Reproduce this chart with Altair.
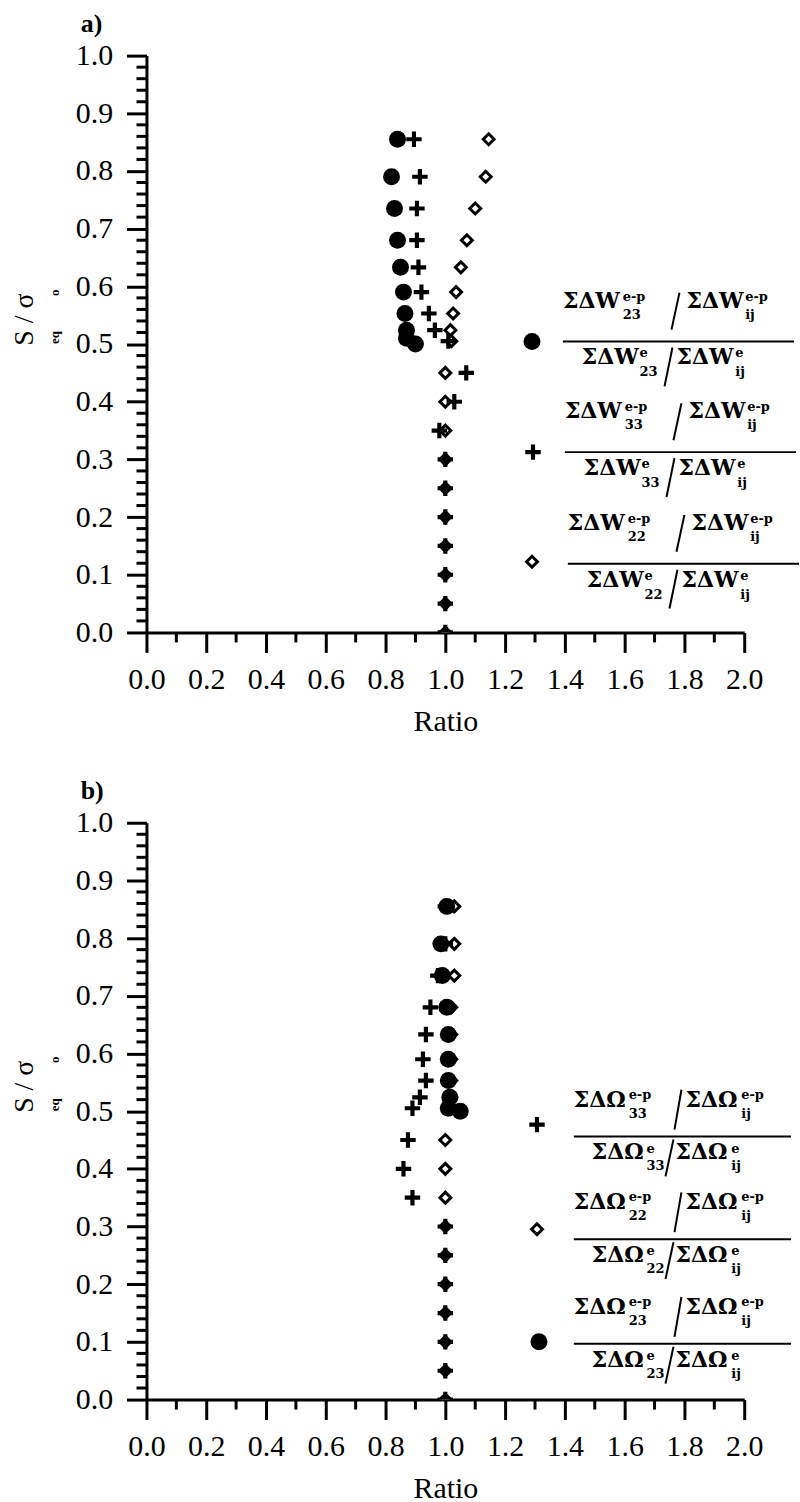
import altair as alt
import pandas as pd

# ---------------- values ----------------
# panel a)  W = strain-energy ratios
A_W23_Y = [0.855, 0.79, 0.735, 0.68, 0.633, 0.59, 0.553, 0.524, 0.51, 0.50]
A_W23_X = [0.84, 0.82, 0.83, 0.84, 0.85, 0.86, 0.865, 0.87, 0.87, 0.90]
A_W33_Y = [0.855, 0.79, 0.735, 0.68, 0.633, 0.59, 0.553, 0.524, 0.505, 0.45,
           0.40, 0.35, 0.30, 0.25, 0.20, 0.15, 0.10, 0.05, 0.0]
A_W33_X = [0.895, 0.915, 0.905, 0.905, 0.91, 0.92, 0.945, 0.965, 1.01, 1.07,
           1.03, 0.98, 1.0, 1.0, 1.0, 1.0, 1.0, 1.0, 1.0]
A_W22_Y = [0.855, 0.79, 0.735, 0.68, 0.633, 0.59, 0.553, 0.524, 0.505, 0.45,
           0.40, 0.35, 0.30, 0.25, 0.20, 0.15, 0.10, 0.05, 0.0]
A_W22_X = [1.145, 1.135, 1.10, 1.072, 1.052, 1.036, 1.026, 1.017, 1.02, 1.0,
           1.0, 1.0, 1.0, 1.0, 1.0, 1.0, 1.0, 1.0, 1.0]

# panel b)  Omega ratios
B_O23_Y = [0.855, 0.79, 0.735, 0.68, 0.633, 0.59, 0.553, 0.524, 0.505, 0.50]
B_O23_X = [1.005, 0.985, 0.99, 1.005, 1.01, 1.01, 1.01, 1.015, 1.01, 1.05]
B_O33_Y = [0.855, 0.79, 0.735, 0.68, 0.633, 0.59, 0.553, 0.524, 0.505, 0.45,
           0.40, 0.35, 0.30, 0.25, 0.20, 0.15, 0.10, 0.05, 0.0]
B_O33_X = [1.0, 1.0, 0.975, 0.95, 0.935, 0.925, 0.935, 0.915, 0.89, 0.875,
           0.86, 0.89, 1.0, 1.0, 1.0, 1.0, 1.0, 1.0, 1.0]
B_O22_Y = [0.855, 0.79, 0.735, 0.68, 0.633, 0.59, 0.553, 0.524, 0.505, 0.45,
           0.40, 0.35, 0.30, 0.25, 0.20, 0.15, 0.10, 0.05, 0.0]
B_O22_X = [1.03, 1.03, 1.03, 1.02, 1.02, 1.02, 1.02, 1.02, 1.02, 1.0,
           1.0, 1.0, 1.0, 1.0, 1.0, 1.0, 1.0, 1.0, 1.0]

X_MAJOR = [round(i * 0.2, 1) for i in range(11)]
X_MINOR = [round(0.1 + i * 0.2, 1) for i in range(10)]
Y_MAJOR = [round(i * 0.1, 1) for i in range(11)]
Y_MINOR = [round(i * 0.02, 2) for i in range(51) if i % 5 != 0]

W, H = 600, 579
SERIF = "Liberation Serif"
LEG_FONT = "DejaVu Serif"
PLUS = "M-1,-0.27L1,-0.27L1,0.27L-1,0.27Z M-0.27,-1L0.27,-1L0.27,1L-0.27,1Z"

xaxis = alt.Axis(values=X_MAJOR, grid=False, title="Ratio", format=".1f",
                 tickSize=20, labelOverlap=False, labelFlush=False,
                 labelPadding=12, titlePadding=12)
yaxis = alt.Axis(values=Y_MAJOR, grid=False, title=None, format=".1f",
                 tickSize=20, labelOverlap=False, labelFlush=False, labelPadding=14)
XS = alt.Scale(domain=[0, 2], nice=False, zero=False)
YS = alt.Scale(domain=[0, 1], nice=False, zero=False)


def pts(xs, ys):
    return pd.DataFrame({"ratio": xs, "s": ys})


def enc(chart):
    return chart.encode(x=alt.X("ratio:Q", scale=XS, axis=xaxis),
                        y=alt.Y("s:Q", scale=YS, axis=yaxis))


def circles(df):
    return enc(alt.Chart(df).mark_point(shape="circle", filled=True, color="black",
                                        size=290, opacity=1, clip=True))


def diamonds(df):
    return enc(alt.Chart(df).mark_point(shape="diamond", filled=True, fill="white",
                                        stroke="black", strokeWidth=3, size=120,
                                        opacity=1, clip=True))


def pluses(df):
    return enc(alt.Chart(df).mark_point(shape=PLUS, filled=True, color="black",
                                        size=240, opacity=1, clip=True))


def minor_ticks():
    xdf = pd.DataFrame({"ratio": X_MINOR})
    ydf = pd.DataFrame({"s": Y_MINOR})
    xt = alt.Chart(xdf).mark_rule(color="black", strokeWidth=3).encode(
        x=alt.X("ratio:Q", scale=XS, axis=xaxis), y=alt.value(H), y2=alt.value(H + 10))
    yt = alt.Chart(ydf).mark_rule(color="black", strokeWidth=3).encode(
        y=alt.Y("s:Q", scale=YS, axis=yaxis), x=alt.value(0), x2=alt.value(-10))
    return [xt, yt]


# ---------------- legend (fractions) ----------------
def fraction(left, line, idx, var, g):
    sym = "ΣΔ" + var
    big = [(left + g["n1"], line + g["nb"], sym), (left + g["n2"], line + g["nb"], sym),
           (left + g["d1"], line + g["db"], sym), (left + g["d2"], line + g["db"], sym)]
    small = [(left + g["ns1"], line + g["nsup"], "e-p"), (left + g["ns1"], line + g["nsub"], idx),
             (left + g["ns2"], line + g["nsup"], "e-p"), (left + g["ns2"], line + g["nsub"], "ij"),
             (left + g["ds1"], line + g["dsup"], "e"), (left + g["ds1"], line + g["dsub"], idx),
             (left + g["ds2"], line + g["dsup"], "e"), (left + g["ds2"], line + g["dsub"], "ij")]
    lines = [(left + g["nsl"][0], line + g["nsl"][1], left + g["nsl"][2], line + g["nsl"][3]),
             (left + g["dsl"][0], line + g["dsl"][1], left + g["dsl"][2], line + g["dsl"][3]),
             (left, line, left + g["w"], line)]
    return big, small, lines


GEOM_A = dict(n1=0, n2=124, nb=-34, ns1=60, ns2=183, nsup=-41, nsub=-23,
              d1=19, d2=114, db=23, ds1=77, ds2=173, dsup=16, dsub=35,
              nsl=(117, -49, 109, -12), dsl=(110, 6, 102, 45), w=232)
GEOM_B = dict(n1=0, n2=112, nb=-30, ns1=55, ns2=168, nsup=-38, nsub=-19,
              d1=18, d2=102, db=23, ds1=73, ds2=158, dsup=16, dsub=34,
              nsl=(108, -47, 101, -7), dsl=(100, 3, 92, 40), w=218)

LEG_A = [("circle", 387, 287, 418, 287, "23"), ("plus", 388, 398, 420, 398, "33"),
         ("diamond", 387, 508, 423, 510, "22")]
LEG_B = [("plus", 392, 303, 429, 315, "33"), ("diamond", 392, 408, 429, 418, "22"),
         ("circle", 394, 521, 429, 523, "23")]


def pix(field):
    return alt.X(field + ":Q", scale=None, axis=None)


def piy(field):
    return alt.Y(field + ":Q", scale=None, axis=None)


def legend_layers(items, var, geom):
    big, small, lines = [], [], []
    syms = {"circle": [], "plus": [], "diamond": []}
    for shape, sx, sy, left, line, idx in items:
        syms[shape].append((sx, sy))
        b, s, l = fraction(left, line, idx, var, geom)
        big += b
        small += s
        lines += l
    layers = []
    bdf = pd.DataFrame(big, columns=["px", "py", "t"])
    layers.append(alt.Chart(bdf).mark_text(font=LEG_FONT, fontSize=22, fontWeight="bold",
                                           align="left", baseline="alphabetic", color="black")
                  .encode(x=pix("px"), y=piy("py"), text="t:N"))
    sdf = pd.DataFrame(small, columns=["px", "py", "t"])
    layers.append(alt.Chart(sdf).mark_text(font=LEG_FONT, fontSize=13, fontWeight="bold",
                                           align="left", baseline="alphabetic", color="black")
                  .encode(x=pix("px"), y=piy("py"), text="t:N"))
    ldf = pd.DataFrame(lines, columns=["px", "py", "px2", "py2"])
    layers.append(alt.Chart(ldf).mark_rule(color="black", strokeWidth=2)
                  .encode(x=pix("px"), y=piy("py"), x2="px2:Q", y2="py2:Q"))
    for shape, pts_ in syms.items():
        df = pd.DataFrame(pts_, columns=["px", "py"])
        if shape == "circle":
            m = alt.Chart(df).mark_point(shape="circle", filled=True, color="black", size=290, opacity=1)
        elif shape == "plus":
            m = alt.Chart(df).mark_point(shape=PLUS, filled=True, color="black", size=240, opacity=1)
        else:
            m = alt.Chart(df).mark_point(shape="diamond", filled=True, fill="white", stroke="black",
                                         strokeWidth=3, size=120, opacity=1)
        layers.append(m.encode(x=pix("px"), y=piy("py")))
    return layers


def ytitle_layers(label):
    one = pd.DataFrame({"k": [0]})
    return [
        alt.Chart(one).mark_text(text="S / σ", font=SERIF, fontSize=28, angle=270,
                                 align="center", baseline="middle", color="black")
        .encode(x=alt.value(-122), y=alt.value(265)),
        alt.Chart(one).mark_text(text="eq", font=SERIF, fontSize=13, fontWeight="bold", angle=270,
                                 align="center", baseline="middle", color="black")
        .encode(x=alt.value(-92), y=alt.value(283)),
        alt.Chart(one).mark_text(text="o", font=SERIF, fontSize=13, fontWeight="bold", angle=270,
                                 align="center", baseline="middle", color="black")
        .encode(x=alt.value(-92), y=alt.value(238)),
        alt.Chart(one).mark_text(text=label, font=SERIF, fontSize=26, fontWeight="bold",
                                 align="left", baseline="alphabetic", color="black")
        .encode(x=alt.value(-66), y=alt.value(-24)),
    ]


def panel(d22, d23, d33, leg, var, label):
    return alt.layer(
        *minor_ticks(),
        diamonds(d22),
        circles(d23),
        pluses(d33),
        *legend_layers(leg, var, GEOM_A if var == "W" else GEOM_B),
        *ytitle_layers(label),
    ).properties(width=W, height=H)


panel_a = panel(pts(A_W22_X, A_W22_Y), pts(A_W23_X, A_W23_Y), pts(A_W33_X, A_W33_Y),
                LEG_A, "W", "a)")
panel_b = panel(pts(B_O22_X, B_O22_Y), pts(B_O23_X, B_O23_Y), pts(B_O33_X, B_O33_Y),
                LEG_B, "Ω", "b)")

chart = alt.vconcat(panel_a, panel_b, spacing=42).properties(
    padding={"left": 11, "top": 8, "right": 0, "bottom": 0}
).configure_view(stroke=None).configure_axis(
    labelFont=SERIF, labelFontSize=30, labelColor="black",
    titleFont=SERIF, titleFontSize=30, titleFontWeight="normal", titleColor="black",
    domainColor="black", domainWidth=3, tickColor="black", tickWidth=3,
)

chart.save("out.html", embed_options={"renderer": "svg", "actions": False})
